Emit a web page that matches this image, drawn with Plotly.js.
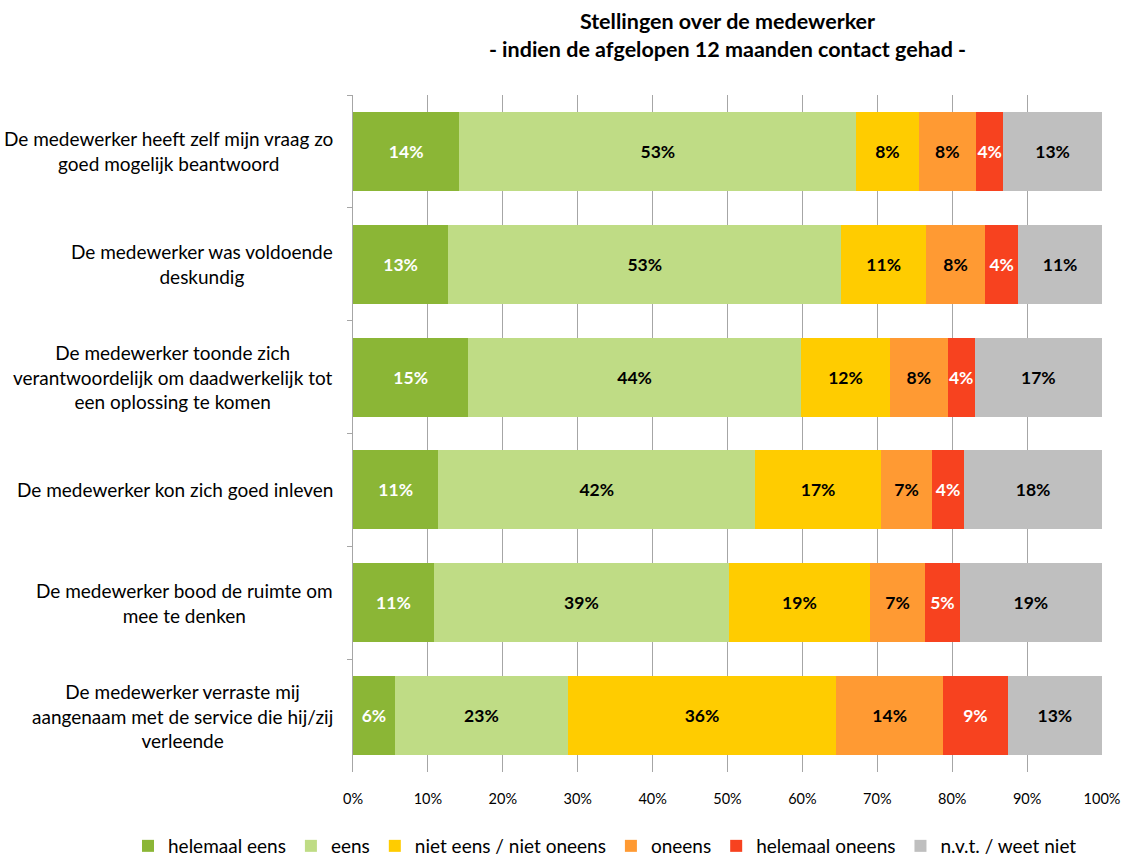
<!DOCTYPE html>
<html><head><meta charset="utf-8">
<script src="https://cdn.plot.ly/plotly-3.0.1.min.js"></script>
<style>body{margin:0;background:#fff}#c{width:1126px;height:859px}</style>
</head><body><div id="c"></div>
<script>
const categories = [
  "De medewerker heeft zelf mijn vraag zo<br>goed mogelijk beantwoord",
  "De medewerker was voldoende<br>deskundig",
  "De medewerker toonde zich<br>verantwoordelijk om daadwerkelijk tot<br>een oplossing te komen",
  "De medewerker kon zich goed inleven",
  "De medewerker bood de ruimte om<br>mee te denken",
  "De medewerker verraste mij<br>aangenaam met de service die hij/zij<br>verleende"
];
const seriesNames = ["helemaal eens","eens","niet eens / niet oneens","oneens","helemaal oneens","n.v.t. / weet niet"];
const helemaalEens   = [14.2, 12.7, 15.4, 11.4, 10.8, 5.6];
const eens           = [53.0, 52.5, 44.4, 42.3, 39.4, 23.1];
const nietEens       = [8.3, 11.3, 11.9, 16.8, 18.8, 35.8];
const oneens         = [7.7, 7.9, 7.7, 6.8, 7.4, 14.3];
const helemaalOneens = [3.6, 4.4, 3.6, 4.3, 4.6, 8.6];
const nvt            = [13.2, 11.2, 17.0, 18.4, 19.0, 12.6];
const xTickVals = [0,10,20,30,40,50,60,70,80,90,100];

const values = [helemaalEens, eens, nietEens, oneens, helemaalOneens, nvt];
const colors = ["#8BB636","#BFDC85","#FFCC00","#FF9A33","#F7421F","#BFBFBF"];
const textColors = ["#FFFFFF","#000000","#000000","#000000","#FFFFFF","#000000"];
const FONT = "Lato, 'Open Sans', sans-serif";

const traces = values.map((v,i)=>({
  type:"bar", orientation:"h", name:seriesNames[i],
  y:categories, x:v,
  marker:{color:colors[i], line:{width:0}},
  texttemplate:"<b>%{x:.0f}%</b>", textposition:"inside", insidetextanchor:"middle",
  textangle:0, constraintext:"none",
  insidetextfont:{color:textColors[i], size:17.5, family:FONT},
  hoverinfo:"skip"
}));

const annotations = categories.map(c=>({
  xref:"paper", yref:"y", x:-0.024, y:c, xanchor:"right", yanchor:"middle",
  align:"center", text:c, showarrow:false, font:{size:19, color:"#000", family:FONT}
}));

const layout = {
  width:1126, height:859, barmode:"stack", bargap:0.3,
  margin:{l:353, r:24, t:95, b:87, autoexpand:false},
  paper_bgcolor:"#fff", plot_bgcolor:"#fff",
  font:{family:FONT, color:"#000"},
  title:{text:"<b>Stellingen over de medewerker<br>- indien de afgelopen 12 maanden contact gehad -</b>",
    xref:"paper", x:0.5, xanchor:"center", yref:"container", y:1-29/859, yanchor:"middle",
    font:{size:21.5, color:"#000", family:FONT}},
  xaxis:{range:[0,100], tickvals:xTickVals, ticktext:xTickVals.map(v=>v+"%"),
    showgrid:true, gridcolor:"#A6A6A6", gridwidth:1, zeroline:false, showline:false,
    ticks:"", ticklabelstandoff:16, tickfont:{size:14.5, color:"#000"}, fixedrange:true},
  yaxis:{autorange:"reversed", type:"category", tickson:"boundaries", ticks:"outside", ticklen:5,
    tickcolor:"#A6A6A6", showline:true, linecolor:"#A6A6A6", linewidth:1, showgrid:false,
    showticklabels:false, fixedrange:true},
  annotations:annotations,
  legend:{orientation:"h", xref:"paper", yref:"paper", x:(128-353)/749, xanchor:"left",
    y:(772-846)/677, yanchor:"middle",
    font:{size:19, color:"#000"}, traceorder:"normal", itemwidth:30},
  showlegend:true
};
Plotly.newPlot("c", traces, layout, {displayModeBar:false, staticPlot:true});
</script></body></html>
